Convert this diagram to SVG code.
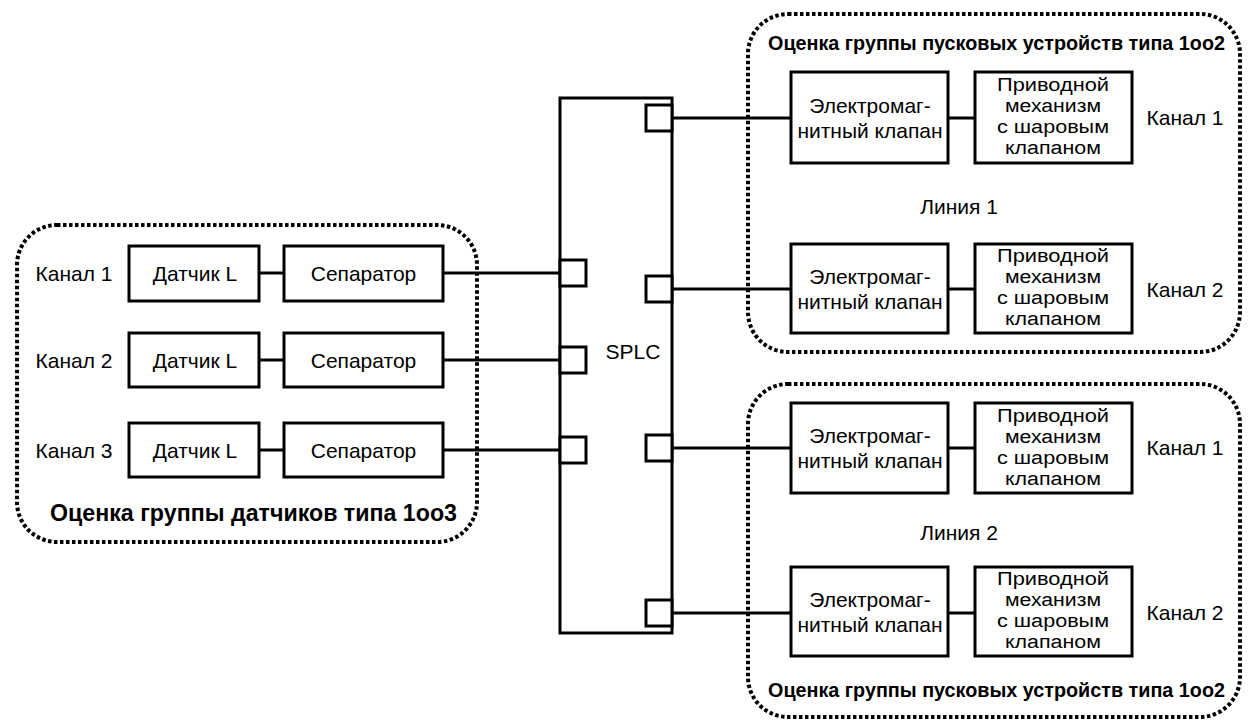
<svg xmlns="http://www.w3.org/2000/svg" width="1255" height="728" viewBox="0 0 1255 728">
<style>
.box{fill:#fff;stroke:#000;stroke-width:3}
.port{fill:#fff;stroke:#000;stroke-width:3}
.grp{fill:none;stroke:#000;stroke-width:4;stroke-dasharray:3.5 2.5}
.ln{stroke:#000;stroke-width:3;fill:none}
text{font-family:"Liberation Sans",Arial,sans-serif;font-size:21px;fill:#000}
.c{text-anchor:middle}
.b{font-weight:bold;font-size:20px}
.bl{font-weight:bold;font-size:23px}
.s{font-size:18px}
</style>
<rect width="1255" height="728" fill="#fff"/>
<g id="group-sensors">
<rect class="grp" x="17" y="225" width="460" height="317" rx="40" ry="40"/>
<text class="c bl" x="253.5" y="521" textLength="407" lengthAdjust="spacingAndGlyphs">Оценка группы датчиков типа 1oo3</text>
</g>
<g id="group-line1">
<rect class="grp" x="748" y="14" width="492" height="338" rx="40" ry="40"/>
<text class="c b" x="996.5" y="50" textLength="457" lengthAdjust="spacingAndGlyphs">Оценка группы пусковых устройств типа 1oo2</text>
<text class="c" x="959" y="214">Линия 1</text>
</g>
<g id="group-line2">
<rect class="grp" x="748" y="384" width="492" height="333" rx="40" ry="40"/>
<text class="c b" x="996.5" y="697" textLength="457" lengthAdjust="spacingAndGlyphs">Оценка группы пусковых устройств типа 1oo2</text>
<text class="c" x="959" y="540">Линия 2</text>
</g>
<g id="connectors">
<line class="ln" x1="259" y1="273" x2="284" y2="273"/>
<line class="ln" x1="259" y1="360" x2="284" y2="360"/>
<line class="ln" x1="259" y1="450" x2="284" y2="450"/>
<line class="ln" x1="443" y1="273" x2="560" y2="273"/>
<line class="ln" x1="443" y1="360" x2="560" y2="360"/>
<line class="ln" x1="443" y1="450" x2="560" y2="450"/>
<line class="ln" x1="672" y1="118" x2="791" y2="118"/>
<line class="ln" x1="672" y1="289" x2="791" y2="289"/>
<line class="ln" x1="672" y1="448" x2="791" y2="448"/>
<line class="ln" x1="672" y1="613" x2="791" y2="613"/>
<line class="ln" x1="948" y1="118" x2="975" y2="118"/>
<line class="ln" x1="948" y1="289" x2="975" y2="289"/>
<line class="ln" x1="948" y1="448" x2="975" y2="448"/>
<line class="ln" x1="948" y1="613" x2="975" y2="613"/>
</g>
<g id="labels-left">
<text class="c" x="74" y="281">Канал 1</text>
<text class="c" x="74" y="368">Канал 2</text>
<text class="c" x="74" y="458">Канал 3</text>
</g>
<g id="sensor1"><rect class="box" x="129" y="246" width="130" height="55"/><text class="c" x="195" y="281">Датчик L</text></g>
<g id="sensor2"><rect class="box" x="129" y="333" width="130" height="54"/><text class="c" x="195" y="368">Датчик L</text></g>
<g id="sensor3"><rect class="box" x="129" y="423" width="130" height="54"/><text class="c" x="195" y="458">Датчик L</text></g>
<g id="sep1"><rect class="box" x="284" y="246" width="159" height="55"/><text class="c" x="363.5" y="281">Сепаратор</text></g>
<g id="sep2"><rect class="box" x="284" y="333" width="159" height="54"/><text class="c" x="363.5" y="368">Сепаратор</text></g>
<g id="sep3"><rect class="box" x="284" y="423" width="159" height="54"/><text class="c" x="363.5" y="458">Сепаратор</text></g>
<g id="splc">
<rect class="box" x="560" y="98" width="112" height="535"/>
<rect class="port" x="560" y="260" width="26" height="26"/>
<rect class="port" x="560" y="347" width="26" height="26"/>
<rect class="port" x="560" y="437" width="26" height="26"/>
<rect class="port" x="646" y="105" width="26" height="26"/>
<rect class="port" x="646" y="276" width="26" height="26"/>
<rect class="port" x="646" y="435" width="26" height="26"/>
<rect class="port" x="646" y="600" width="26" height="26"/>
<text class="c" x="633" y="359">SPLC</text>
</g>
<g id="valve1"><rect class="box" x="791" y="72" width="157" height="91"/><text class="c" x="870" y="113">Электромаг-</text><text class="c" x="870" y="138">нитный клапан</text></g>
<g id="act1"><rect class="box" x="975" y="72" width="157" height="91"/><text class="c s" x="1053" y="91" textLength="112" lengthAdjust="spacingAndGlyphs">Приводной</text><text class="c s" x="1053" y="112" textLength="96" lengthAdjust="spacingAndGlyphs">механизм</text><text class="c s" x="1053" y="133" textLength="112" lengthAdjust="spacingAndGlyphs">с шаровым</text><text class="c s" x="1053" y="154" textLength="96" lengthAdjust="spacingAndGlyphs">клапаном</text></g>
<g id="valve2"><rect class="box" x="791" y="244" width="157" height="89"/><text class="c" x="870" y="284">Электромаг-</text><text class="c" x="870" y="309">нитный клапан</text></g>
<g id="act2"><rect class="box" x="975" y="244" width="157" height="89"/><text class="c s" x="1053" y="262" textLength="112" lengthAdjust="spacingAndGlyphs">Приводной</text><text class="c s" x="1053" y="283" textLength="96" lengthAdjust="spacingAndGlyphs">механизм</text><text class="c s" x="1053" y="304" textLength="112" lengthAdjust="spacingAndGlyphs">с шаровым</text><text class="c s" x="1053" y="325" textLength="96" lengthAdjust="spacingAndGlyphs">клапаном</text></g>
<g id="valve3"><rect class="box" x="791" y="403" width="157" height="90"/><text class="c" x="870" y="443">Электромаг-</text><text class="c" x="870" y="468">нитный клапан</text></g>
<g id="act3"><rect class="box" x="975" y="403" width="157" height="90"/><text class="c s" x="1053" y="422" textLength="112" lengthAdjust="spacingAndGlyphs">Приводной</text><text class="c s" x="1053" y="443" textLength="96" lengthAdjust="spacingAndGlyphs">механизм</text><text class="c s" x="1053" y="464" textLength="112" lengthAdjust="spacingAndGlyphs">с шаровым</text><text class="c s" x="1053" y="485" textLength="96" lengthAdjust="spacingAndGlyphs">клапаном</text></g>
<g id="valve4"><rect class="box" x="791" y="567" width="157" height="89"/><text class="c" x="870" y="607">Электромаг-</text><text class="c" x="870" y="632">нитный клапан</text></g>
<g id="act4"><rect class="box" x="975" y="567" width="157" height="89"/><text class="c s" x="1053" y="585" textLength="112" lengthAdjust="spacingAndGlyphs">Приводной</text><text class="c s" x="1053" y="606" textLength="96" lengthAdjust="spacingAndGlyphs">механизм</text><text class="c s" x="1053" y="627" textLength="112" lengthAdjust="spacingAndGlyphs">с шаровым</text><text class="c s" x="1053" y="648" textLength="96" lengthAdjust="spacingAndGlyphs">клапаном</text></g>
<g id="labels-right">
<text class="c" x="1185" y="125">Канал 1</text>
<text class="c" x="1185" y="297">Канал 2</text>
<text class="c" x="1185" y="455">Канал 1</text>
<text class="c" x="1185" y="620">Канал 2</text>
</g>
</svg>
